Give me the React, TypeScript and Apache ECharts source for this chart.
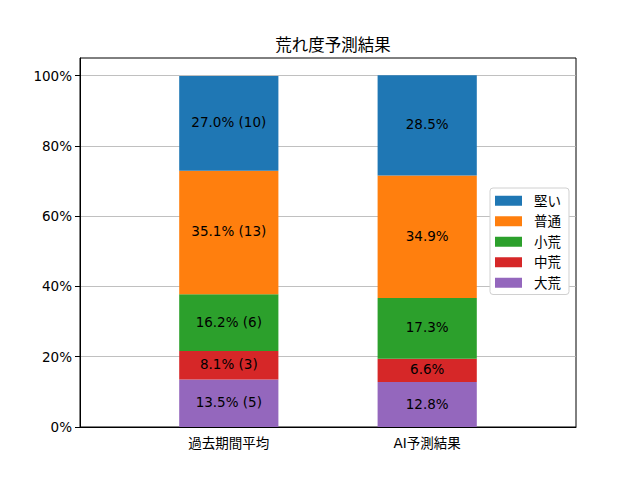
import React, { useEffect, useRef } from "react";
import * as echarts from "echarts";

const categories = ["", "過去期間平均", "", "AI予測結果", ""];
const levels = ["大荒", "中荒", "小荒", "普通", "堅い"];
const colors = ["#9467bd", "#d62728", "#2ca02c", "#ff7f0e", "#1f77b4"];
const pastPct = [13.5, 8.1, 16.2, 35.1, 27.0];
const pastCount = [5, 3, 6, 13, 10];
const aiPct = [12.8, 6.6, 17.3, 34.9, 28.5];
const yTicks = [0, 20, 40, 60, 80, 100];

const FONT = "DejaVu Sans, Noto Sans CJK JP, sans-serif";

export default function App() {
  const ref = useRef<HTMLDivElement>(null);
  useEffect(() => {
    document.body.style.margin = "0";
    const chart = echarts.init(ref.current!, null, { renderer: "svg" });
    const series = levels.map((name, i) => ({
      name,
      type: "bar",
      stack: "total",
      barWidth: "100%",
      itemStyle: { color: colors[i] },
      label: {
        show: true,
        position: "inside",
        color: "#000",
        fontSize: 13.5,
        fontFamily: FONT,
        offset: [0, -1],
        formatter: (p: any) =>
          p.dataIndex === 1
            ? `${pastPct[i].toFixed(1)}% (${pastCount[i]})`
            : `${aiPct[i].toFixed(1)}%`,
      },
      data: [null, pastPct[i], null, aiPct[i], null],
    }));
    chart.setOption({
      animation: false,
      textStyle: { fontFamily: FONT },
      title: {
        text: "荒れ度予測結果",
        left: 328,
        textAlign: "center",
        top: 32,
        textStyle: { fontSize: 16.5, fontWeight: "normal", color: "#000", fontFamily: FONT },
      },
      grid: {
        left: 80,
        right: 64,
        top: 58,
        bottom: 53,
        show: true,
        borderColor: "#000",
        borderWidth: 1,
      },
      legend: {
        orient: "vertical",
        right: 71,
        top: 188,
        data: [...levels].reverse(),
        icon: "rect",
        itemWidth: 27,
        itemHeight: 10,
        itemGap: 7,
        padding: [6, 8, 5, 5],
        backgroundColor: "#fff",
        borderColor: "#d0d0d0",
        borderWidth: 1,
        borderRadius: 3,
        textStyle: { fontSize: 13.5, color: "#000", fontFamily: FONT, padding: [0, 0, 0, 7] },
      },
      xAxis: {
        type: "category",
        data: categories,
        axisLine: { lineStyle: { color: "#000" } },
        axisTick: {
          alignWithLabel: true,
          length: 5,
          interval: (idx: number) => idx === 1 || idx === 3,
          lineStyle: { color: "#000" },
        },
        axisLabel: {
          interval: 0,
          color: "#000",
          fontSize: 13.5,
          margin: 9,
          fontFamily: FONT,
        },
      },
      yAxis: {
        type: "value",
        min: 0,
        max: 105,
        interval: 20,
        axisLine: { show: true, lineStyle: { color: "#000" } },
        axisTick: {
          show: true,
          length: 5,
          customValues: yTicks,
          lineStyle: { color: "#000" },
        },
        axisLabel: {
          color: "#000",
          fontSize: 13.5,
          margin: 8,
          fontFamily: FONT,
          customValues: yTicks,
          formatter: (v: number) => `${v}%`,
        },
        splitLine: { show: true, lineStyle: { color: "#b0b0b0", width: 0.8 } },
      },
      series,
    });
    return () => chart.dispose();
  }, []);
  return <div ref={ref} style={{ width: 640, height: 480 }} />;
}
